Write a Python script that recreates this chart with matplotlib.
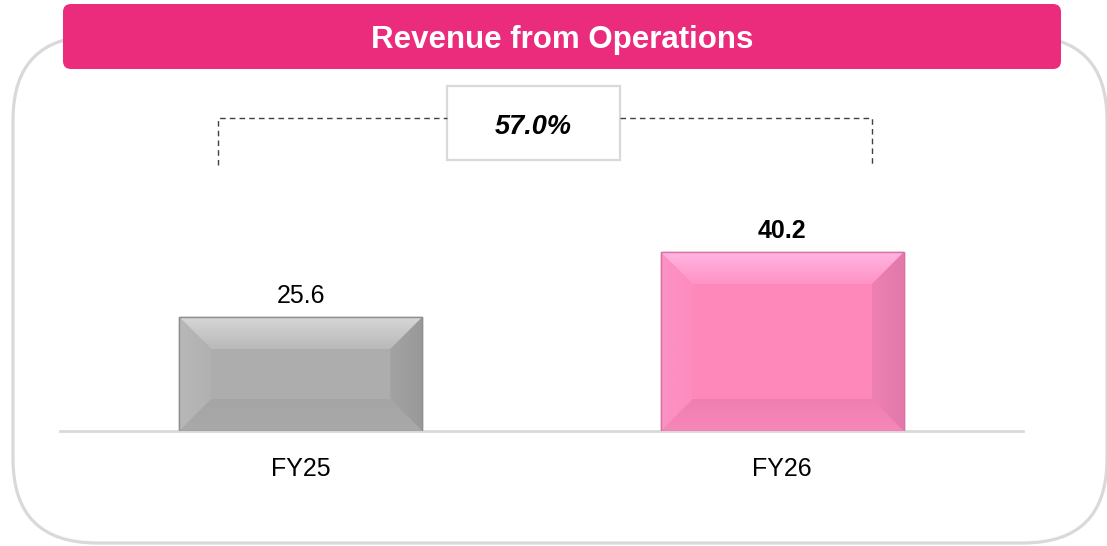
import matplotlib
matplotlib.use("Agg")
import matplotlib.pyplot as plt
import numpy as np
from matplotlib.patches import FancyBboxPatch, Rectangle, Polygon
from matplotlib import font_manager as fm

# ---- data ----
categories = ["FY25", "FY26"]
values = [25.6, 40.2]
growth_label = "57.0%"
title = "Revenue from Operations"

W, H = 1107, 546
fig = plt.figure(figsize=(W / 100, H / 100), dpi=100)

names = {f.name for f in fm.fontManager.ttflist}
base_font = "Liberation Sans" if "Liberation Sans" in names else "DejaVu Sans"
narrow_font = "Liberation Sans Narrow" if "Liberation Sans Narrow" in names else base_font
plt.rcParams["font.family"] = [base_font, "DejaVu Sans"]

# ---- overlay (pixel coordinates) ----
ov = fig.add_axes([0, 0, 1, 1], zorder=0)
ov.set_xlim(0, W)
ov.set_ylim(H, 0)
ov.axis("off")

R = 84
frame = FancyBboxPatch((13 + R, 36 + R), 1094 - 2 * R, 507 - 2 * R,
                       boxstyle=f"round,pad={R}", fc="white", ec="#d9d9d9", lw=2.3)
ov.add_patch(frame)
header = FancyBboxPatch((63 + 8, 4 + 8), 998 - 16, 65 - 16,
                        boxstyle="round,pad=8", fc="#eb2c7c", ec="none")
ov.add_patch(header)
ov.text(562, 40, title, color="white", fontsize=22.5, fontweight="bold",
        ha="center", va="center")

# dashed bracket
dash = dict(color="#404040", lw=1.0, ls=(0, (4, 3)))
ov.plot([218, 218, 447], [165, 118, 118], **dash)
ov.plot([620, 872, 872], [118, 118, 165], **dash)
ov.add_patch(Rectangle((447, 86), 173, 74, fc="white", ec="#d9d9d9", lw=1.6))
ov.text(533.5, 127, growth_label, fontsize=23 if narrow_font != base_font else 19.5,
        fontweight="bold", fontstyle="italic", family=[narrow_font, "DejaVu Sans"],
        ha="center", va="center", color="black")

# ---- bar axes ----
ax_left, ax_right, base_y, top_y = 60, 1023, 431, 208.5
ax = fig.add_axes([ax_left / W, 1 - base_y / H, (ax_right - ax_left) / W, (base_y - top_y) / H],
                  zorder=2)
ax.patch.set_alpha(0)
ymax = 50
ax.set_xlim(-0.5, 1.5)
ax.set_ylim(0, ymax)
for s in ["top", "right", "left"]:
    ax.spines[s].set_visible(False)
ax.spines["bottom"].set_color("#d9d9d9")
ax.spines["bottom"].set_linewidth(2.0)
ax.set_yticks([])
x = np.arange(len(categories))
ax.set_xticks(x)
ax.set_xticklabels(categories, fontsize=18)
ax.tick_params(axis="x", length=0, pad=19)

faces = ["#adadad", "#ff88bb"]
edges = ["#8f8f8f", "#d872a2"]
bands = [
    {"top": ("#d6d6d6", "#b9b9b9"), "bottom": ("#a9a9a9", "#a5a5a5"),
     "left": ("#b8b8b8", "#b1b1b1"), "right": ("#a3a3a3", "#999999")},
    {"top": ("#ffb5e2", "#ff93c5"), "bottom": ("#f787b8", "#f07fb1"),
     "left": ("#fd92c4", "#fd8cbf"), "right": ("#ec81b2", "#e279aa")},
]
bars = ax.bar(x, values, width=0.505, color=faces, edgecolor=edges, lw=1.0, zorder=2)

px_x = (ax_right - ax_left) / 2.0
px_y = (base_y - top_y) / ymax
bev = 32
bx, by = bev / px_x, bev / px_y

def grad_band(poly_pts, c0, c1, vertical, bbox):
    poly = Polygon(poly_pts, closed=True, fc="none", ec="none")
    ax.add_patch(poly)
    rgb0 = np.array(matplotlib.colors.to_rgb(c0))
    rgb1 = np.array(matplotlib.colors.to_rgb(c1))
    t = np.linspace(0, 1, 64)
    g = rgb0[None, :] * (1 - t[:, None]) + rgb1[None, :] * t[:, None]
    img = g[:, None, :] if vertical else g[None, :, :]
    x0, x1, y0, y1 = bbox
    im = ax.imshow(img, extent=(x0, x1, y0, y1), origin="upper", aspect="auto",
                   interpolation="bilinear", zorder=3)
    im.set_clip_path(poly)

for i, b in enumerate(bars):
    x0, y0 = b.get_x(), b.get_y()
    x1, y1 = x0 + b.get_width(), y0 + b.get_height()
    bd = bands[i]
    grad_band([(x0, y1), (x1, y1), (x1 - bx, y1 - by), (x0 + bx, y1 - by)],
              bd["top"][0], bd["top"][1], True, (x0, x1, y1 - by, y1))
    grad_band([(x0, y0), (x1, y0), (x1 - bx, y0 + by), (x0 + bx, y0 + by)],
              bd["bottom"][1], bd["bottom"][0], True, (x0, x1, y0, y0 + by))
    grad_band([(x0, y0), (x0, y1), (x0 + bx, y1 - by), (x0 + bx, y0 + by)],
              bd["left"][0], bd["left"][1], False, (x0, x0 + bx, y0, y1))
    grad_band([(x1, y0), (x1, y1), (x1 - bx, y1 - by), (x1 - bx, y0 + by)],
              bd["right"][0], bd["right"][1], False, (x1 - bx, x1, y0, y1))
    ax.add_patch(Rectangle((x0, y0), x1 - x0, y1 - y0, fc="none", ec=edges[i], lw=1.0, zorder=4))
    ax.text(b.get_x() + b.get_width() / 2, y1 + 21 / px_y, f"{values[i]:.1f}",
            ha="center", va="center", fontsize=18,
            fontweight="bold" if i == 1 else "normal", color="black", zorder=5)

ax.set_xlim(-0.5, 1.5)
ax.set_ylim(0, ymax)

fig.savefig("out.png", dpi=100)
